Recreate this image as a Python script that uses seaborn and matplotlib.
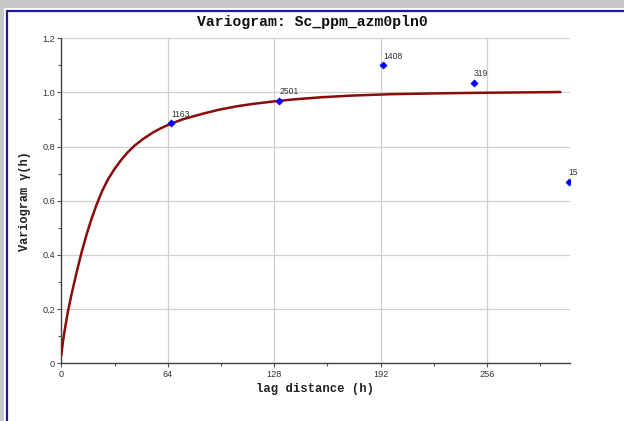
import matplotlib
matplotlib.use("Agg")
import matplotlib.pyplot as plt
from matplotlib.patches import Rectangle
import seaborn as sns
import pandas as pd

# experimental variogram points
lag = [65.9, 131.0, 193.5, 248.0, 305.0]
gamma = [0.885, 0.967, 1.099, 1.035, 0.668]
pairs = ["1163", "2501", "1408", "319", "15"]

# fitted model curve
model_h = [0.0, 1.0, 2.0, 3.8, 6.0, 9.2, 12.0, 15.2, 18.0, 21.2, 24.5, 28.0, 32.0, 36.2,
           40.0, 44.0, 49.2, 55.2, 60.0, 65.9, 73.3, 85.7, 95.0, 106.0, 115.0, 128.5,
           140.0, 157.0, 175.0, 197.7, 225.0, 248.6, 300.0]
model_g = [0.03, 0.08, 0.12, 0.185, 0.25, 0.335, 0.405, 0.475, 0.53, 0.585, 0.635, 0.678,
           0.717, 0.752, 0.779, 0.803, 0.828, 0.852, 0.868, 0.884, 0.901, 0.922, 0.936,
           0.949, 0.957, 0.967, 0.974, 0.982, 0.988, 0.993, 0.996, 0.998, 1.001]

xticks = [0, 64, 128, 192, 256]
yticks = [0, 0.2, 0.4, 0.6, 0.8, 1.0, 1.2]
ytick_labels = ["0", "0.2", "0.4", "0.6", "0.8", "1.0", "1.2"]

sns.set_style("white")
plt.rcParams['font.family'] = ['Liberation Sans', 'DejaVu Sans']

fig = plt.figure(figsize=(6.24, 4.21), dpi=100)
fig.patch.set_facecolor("white")
ax = fig.add_axes([0.0982, 0.137, 0.9130 - 0.0982, 0.9095 - 0.137])

# window frame decorations
fig.patches.append(Rectangle((0, 1 - 8 / 421), 1, 8 / 421, transform=fig.transFigure,
                             facecolor="#c8c8c8", edgecolor="none", zorder=0))
fig.patches.append(Rectangle((0, 0), 4 / 624, 1, transform=fig.transFigure,
                             facecolor="#c8c8c8", edgecolor="none", zorder=0))
fig.lines.append(plt.Line2D([6.5 / 624, 6.5 / 624], [0, 1 - 11 / 421], transform=fig.transFigure,
                            color="#1c1ca0", lw=1.6))
fig.lines.append(plt.Line2D([6.5 / 624, 1], [1 - 11 / 421, 1 - 11 / 421], transform=fig.transFigure,
                            color="#1c1ca0", lw=1.6))

mdf = pd.DataFrame({"h": model_h, "g": model_g})
pdf = pd.DataFrame({"h": lag, "g": gamma})

sns.lineplot(data=mdf, x="h", y="g", ax=ax, color="#8b0a0a", lw=1.8, zorder=3)
sns.scatterplot(data=pdf, x="h", y="g", ax=ax, marker="D", s=13, color="#0000ff",
                edgecolor="#0000ff", linewidth=0.5, zorder=4)
for h, g, n in zip(lag, gamma, pairs):
    ax.annotate(n, (h, g), xytext=(0, 3.5), textcoords="offset points",
                fontsize=6.2, color="#333333", ha="left", va="bottom")

ax.set_xlim(0, 305.6)
ax.set_ylim(0, 1.2)
ax.set_xticks(xticks)
ax.set_xticklabels([str(t) for t in xticks])
ax.set_xticks(range(32, 305, 64), minor=True)
ax.set_yticks(yticks)
ax.set_yticklabels(ytick_labels)
ax.set_yticks([0.1, 0.3, 0.5, 0.7, 0.9, 1.1], minor=True)
ax.tick_params(axis="both", which="major", length=3, width=0.8, color="#555555",
               labelsize=6.6, labelcolor="#333333", pad=1.5, direction="out")
ax.tick_params(axis="both", which="minor", length=2.5, width=0.8, color="#555555", direction="out")
ax.tick_params(axis="x", which="both", bottom=True)
ax.tick_params(axis="y", which="both", left=True)

ax.grid(True, which="major", color="#d0d0d0", lw=0.9)
ax.set_axisbelow(True)
for s in ["top", "right"]:
    ax.spines[s].set_visible(False)
for s in ["left", "bottom"]:
    ax.spines[s].set_color("#444444")
    ax.spines[s].set_linewidth(1.0)

ax.set_xlabel("lag distance (h)", family=["Liberation Mono", "DejaVu Sans Mono"],
              fontsize=8.8, fontweight="bold", color="#222222", labelpad=3)
ax.set_ylabel("Variogram γ(h)", family=["Liberation Mono", "DejaVu Sans Mono"],
              fontsize=8.6, fontweight="bold", color="#222222", labelpad=8)
fig.text(0.5, 1 - 22 / 421, "Variogram: Sc_ppm_azm0pln0",
         family=["Liberation Mono", "DejaVu Sans Mono"], fontsize=10.6, fontweight="bold",
         ha="center", va="center", color="#111111")

fig.savefig("out.png", dpi=100)
